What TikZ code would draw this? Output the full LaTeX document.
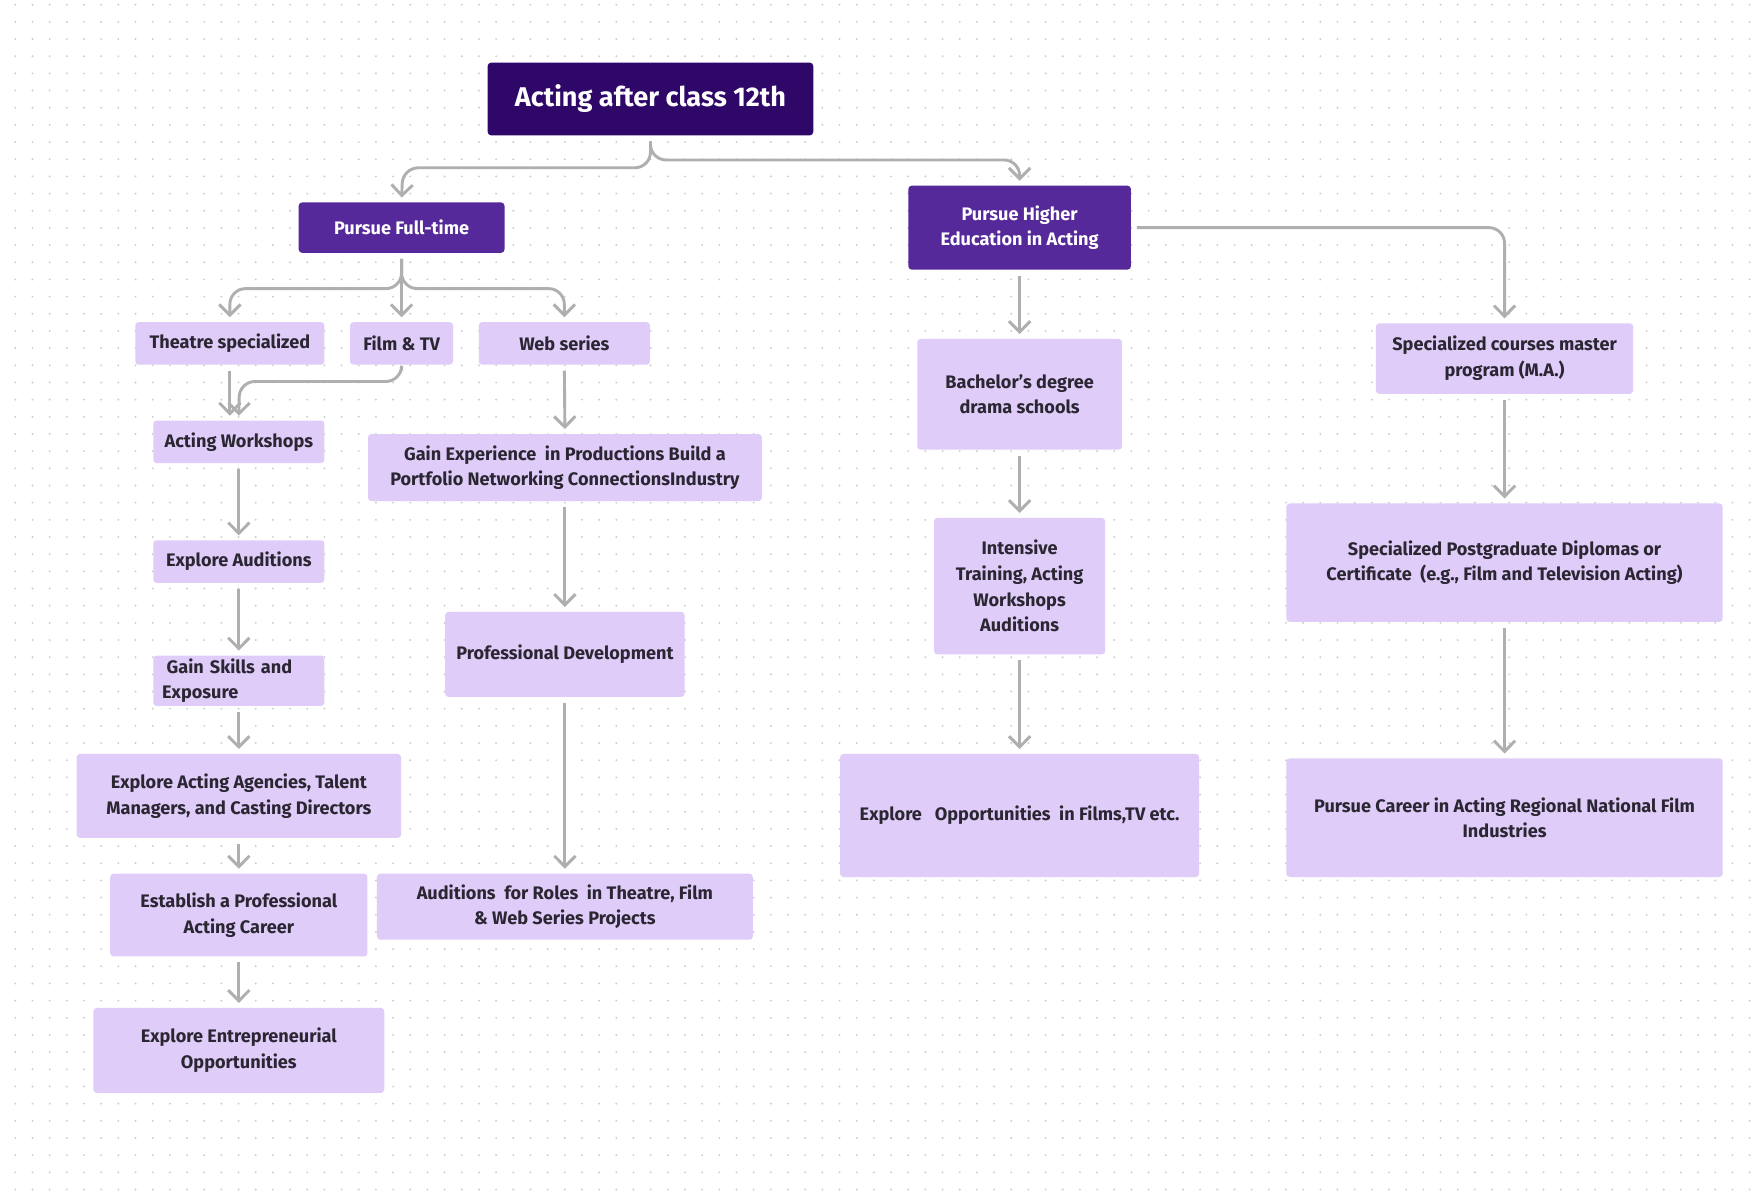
\documentclass[tikz,border=0pt]{standalone}
\usepackage{fontspec}
\setmainfont{Fira Sans}
\usetikzlibrary{arrows.meta}
\definecolor{navy}{HTML}{2E0769}
\definecolor{purp}{HTML}{56299A}
\definecolor{lav}{HTML}{DFCCF9}
\definecolor{ink}{HTML}{2A2632}
\definecolor{wire}{HTML}{AFAFAF}
\definecolor{dotc}{HTML}{CDCDCD}
\begin{document}
\begin{tikzpicture}[x=0.5pt,y=-0.5pt,
  box/.style={fill=lav, rounded corners=1.5pt, text=ink, font=\bfseries\fontsize{8.1}{11.5}\selectfont, align=center, inner sep=0pt},
  dark/.style={box, fill=purp, text=white},
  sz/.style 2 args={minimum width=#1*0.5pt, minimum height=#2*0.5pt},
  conn/.style={draw=wire, line width=1.3pt, rounded corners=7pt, -{Straight Barb[length=4.8pt,width=9.5pt]}, shorten >=2pt, shorten <=2.5pt},
  dotrow/.style={draw=dotc, line width=0.95pt, line cap=round, dash pattern=on 0pt off 7.675pt}
]
\useasboundingbox (0,0) rectangle (1568,1076);
\fill[white] (0,0) rectangle (1568,1076);
\foreach \j in {0,...,70} {\draw[dotrow] (13.7,4.2+\j*15.35) -- (1568,4.2+\j*15.35);}

% nodes
\node[box, fill=navy, text=white, sz={291}{65}, font=\bfseries\fontsize{12.1}{14}\selectfont] (top) at (581.5,88.5) {Acting after class 12th};
\node[dark, sz={184}{45}] (pft) at (359,203.5) {Pursue Full-time};
\node[dark, sz={199}{75}] (phe) at (911.5,203.5) {Pursue Higher\\Education in Acting};

\node[box, sz={169}{38}] (th) at (205.5,307) {Theatre specialized};
\node[box, sz={92}{38}] (ftv) at (359,307) {Film \& TV};
\node[box, sz={153}{38}] (ws) at (504.5,307) {Web series};

\node[box, sz={153}{38}] (aw) at (213.5,395) {Acting Workshops};
\node[box, sz={153}{38}] (ea) at (213.5,502) {Explore Auditions};
\node[box, sz={153}{45}, text width=137*0.5pt, align=left] (gs) at (213.5,608.5) {\hspace*{2pt}Gain Skills and\\Exposure};
\node[box, sz={290}{75}] (ag) at (213.5,711.5) {Explore Acting Agencies, Talent\\Managers, and Casting Directors};
\node[box, sz={230}{74}] (es) at (213.5,818) {Establish a Professional\\Acting Career};
\node[box, sz={260}{76}] (en) at (213.5,939) {Explore Entrepreneurial\\Opportunities};

\node[box, sz={352}{60}] (ge) at (505,418) {Gain Experience\ \ in Productions Build a\\Portfolio Networking ConnectionsIndustry};
\node[box, sz={214}{76}] (pd) at (505,585) {Professional Development};
\node[box, sz={336}{59}] (au) at (505,810.5) {Auditions\ \ for Roles\ \ in Theatre, Film\\\& Web Series Projects};

\node[box, sz={183}{99}] (bd) at (911.5,352.5) {Bachelor\char"27 s degree\\drama schools};
\node[box, sz={153}{122}] (it) at (911.5,524) {Intensive\\Training, Acting\\Workshops\\Auditions};
\node[box, sz={321}{110}] (eo) at (911.5,729) {Explore\ \ \ Opportunities\ \ in Films,TV etc.};

\node[box, sz={230}{63}] (sc) at (1345,320.5) {Specialized courses master\\program (M.A.)};
\node[box, sz={390}{106}] (pg) at (1345,503) {Specialized Postgraduate Diplomas or\\Certificate\ \ (e.g., Film and Television Acting)};
\node[box, sz={390}{106}] (pc) at (1345,731) {Pursue Career in Acting Regional National Film\\Industries};

% connectors
\draw[conn] (top.south) |- (360,150) -- (pft.north);
\draw[conn] (top.south) |- (911.5,143) -- (phe.north);

\draw[conn] (pft.south) |- (205.5,258) -- (th.north);
\draw[conn] (pft.south) -- (ftv.north);
\draw[conn] (pft.south) |- (504.5,258) -- (ws.north);

\draw[conn] (th.south) -- (th.south |- aw.north);
\draw[conn] (ftv.south) |- (214,341) -- (aw.north);
\draw[conn] (aw.south) -- (ea.north);
\draw[conn] (ea.south) -- (gs.north);
\draw[conn] (gs.south) -- (ag.north);
\draw[conn] (ag.south) -- (es.north);
\draw[conn] (es.south) -- (en.north);

\draw[conn] (ws.south) -- (ge.north);
\draw[conn] (ge.south) -- (pd.north);
\draw[conn] (pd.south) -- (au.north);

\draw[conn] (phe.south) -- (bd.north);
\draw[conn] (bd.south) -- (it.north);
\draw[conn] (it.south) -- (eo.north);

\draw[conn] (phe.east) -| (sc.north);
\draw[conn] (sc.south) -- (pg.north);
\draw[conn] (pg.south) -- (pc.north);
\end{tikzpicture}
\end{document}
